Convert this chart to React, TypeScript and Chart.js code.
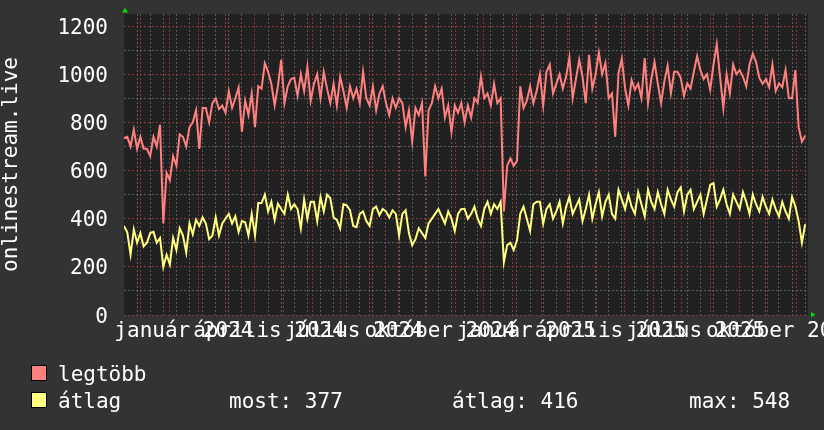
import React, { useEffect, useRef } from "react";
import { Chart, registerables } from "chart.js";

Chart.register(...registerables);

// Time axis: days counted from 13 Nov 2023 (two years shown)
const START_UTC = Date.UTC(2023, 10, 13);
const SPAN_DAYS = 731;
const STEP_DAYS = 3.5;

// "legtöbb" series (one value every 3.5 days)
const legtobb = [
  735, 740, 700, 770, 690, 740, 690, 690, 660, 740,
  700, 790, 380, 590, 560, 660, 620, 750, 740, 700,
  780, 800, 850, 690, 860, 860, 800, 880, 900, 855,
  870, 840, 930, 860, 900, 945, 760, 890, 830, 920,
  780, 950, 940, 1045, 1010, 960, 870, 950, 1060, 880,
  950, 980, 985, 910, 1000, 930, 1030, 890, 960, 1000,
  900, 1010, 940, 880, 960, 870, 990, 930, 860, 950,
  900, 940, 880, 1010, 900, 870, 950, 850, 920, 950,
  880, 830, 900, 860, 900, 880, 780, 850, 720, 860,
  830, 880, 575, 850, 880, 950, 900, 940, 820, 870,
  760, 870, 840, 880, 800, 870, 820, 900, 880, 990,
  900, 920, 870, 960, 880, 900, 430, 620, 650, 620,
  640, 950, 860, 890, 950, 880, 930, 1000, 870, 1010,
  1040, 920, 960, 1000, 940, 990, 1070, 900, 980, 1060,
  990, 880, 1080, 940, 1000, 1090, 1000, 1046, 900, 920,
  740, 1004, 1065, 942, 870, 975, 935, 960, 900, 1067,
  880, 980, 1050, 960, 880, 970, 1035, 921, 1010, 1010,
  985, 910, 962, 940, 1010, 1075, 1017, 980, 1000, 935,
  1040, 1125, 990, 860, 1000, 920, 1040, 1000, 1017, 990,
  950, 1040, 1085, 1050, 985, 960, 980, 946, 1040, 930,
  962, 946, 1017, 900, 900, 1017, 780, 720, 745,
];

// "átlag" series (one value every 3.5 days)
const atlag = [
  370, 343, 250, 355, 300, 340, 285, 300, 340, 345,
  300, 320, 200, 250, 210, 320, 270, 360, 330, 260,
  380, 335, 395, 370, 405, 380, 315, 330, 405, 330,
  380, 400, 420, 380, 410, 345, 390, 385, 330, 420,
  330, 465, 465, 500, 430, 470, 395, 462, 440, 420,
  500, 440, 460, 440, 360, 480, 400, 470, 470, 390,
  490, 430, 500, 485, 405, 395, 360, 460, 455, 435,
  370, 365, 420, 430, 390, 370, 440, 450, 415, 440,
  430, 405, 435, 420, 330, 420, 435, 340, 290, 315,
  360, 340, 320, 380, 400, 420, 440, 410, 380, 430,
  400, 350, 420, 440, 440, 400, 420, 450, 400, 370,
  440, 470, 420, 460, 440, 470, 220, 290, 300, 270,
  310, 420, 450, 400, 350, 460, 470, 470, 380, 440,
  460, 400, 430, 470, 380, 450, 490, 420, 450, 480,
  390, 440, 500, 400, 460, 510, 410, 470, 500, 420,
  400, 520, 480, 440, 500, 450, 420, 510, 460, 410,
  520, 470, 440, 510, 460, 420, 520, 480, 450, 510,
  530, 430, 500, 520, 440, 470, 500, 420, 480, 540,
  548, 450, 480, 520, 460, 420, 500, 470, 440, 510,
  470, 420, 500, 460, 430, 490, 450, 420, 480, 440,
  410, 470, 430, 400, 490, 450, 390, 300, 377,
];

const yLabelValues = [0, 200, 400, 600, 800, 1000, 1200];
const yMinorValues = [100, 300, 500, 700, 900, 1100];
const Y_MAX = 1250;

const monthNames = [
  "január", "február", "március", "április", "május", "június",
  "július", "augusztus", "szeptember", "október", "november", "december",
];
const labelMonths = [0, 3, 6, 9];
const years = [2023, 2024, 2025, 2026];

const yTitle = "onlinestream.live";
const seriesNames = ["legtöbb", "átlag"];
const seriesColors = ["#ff8080", "#ffff80"];
const statTexts = ["most: 377", "átlag: 416", "max: 548"];

const FONT = '21px "DejaVu Sans Mono", monospace';
const GRID_MINOR = "rgba(110,110,110,0.75)";
const GRID_MAJOR = "rgba(150,55,55,0.85)";

const dayOf = (y: number, m: number, d: number) =>
  (Date.UTC(y, m, d) - START_UTC) / 86400000;

const monthStarts: number[] = [];
years.forEach((y) => {
  for (let m = 0; m < 12; m++) {
    const d = dayOf(y, m, 1);
    if (d > 0 && d < SPAN_DAYS) monthStarts.push(d);
  }
});
const biweekly: number[] = [];
for (let d = 14; d < SPAN_DAYS; d += 14) biweekly.push(d);

const xLabels: { day: number; text: string }[] = [];
years.forEach((y) => {
  labelMonths.forEach((m) => {
    const c = dayOf(y, m, 1) + 15;
    if (c >= 0 && c <= SPAN_DAYS) xLabels.push({ day: c, text: `${monthNames[m]} ${y}` });
  });
});

const toPoints = (arr: number[]) => arr.map((v, i) => ({ x: i * STEP_DAYS, y: v }));

const decor = {
  id: "rrdDecor",
  beforeDraw(chart: any) {
    const { ctx, chartArea: a } = chart;
    ctx.save();
    ctx.fillStyle = "#333333";
    ctx.fillRect(0, 0, chart.width, chart.height);
    ctx.fillStyle = "#212121";
    ctx.fillRect(a.left, a.top, a.right - a.left, a.bottom - a.top);
    ctx.restore();
  },
  afterDraw(chart: any) {
    const { ctx, chartArea: a } = chart;
    const xs = chart.scales.x;
    const ys = chart.scales.y;
    ctx.save();
    ctx.fillStyle = "#ffffff";
    ctx.font = FONT;
    // y tick labels
    ctx.textAlign = "right";
    ctx.textBaseline = "alphabetic";
    yLabelValues.forEach((v) => {
      ctx.fillText(String(v), a.left - 16, ys.getPixelForValue(v) + 7.5);
    });
    // x labels
    ctx.textAlign = "center";
    xLabels.forEach((l) => {
      ctx.fillText(l.text, xs.getPixelForValue(l.day), a.bottom + 22);
    });
    // y title
    ctx.save();
    ctx.translate(17, 272);
    ctx.rotate(-Math.PI / 2);
    ctx.textAlign = "left";
    ctx.fillText(yTitle, 0, 0);
    ctx.restore();
    // arrows
    ctx.fillStyle = "#00dd00";
    ctx.beginPath();
    ctx.moveTo(a.left + 1, a.top - 6.5);
    ctx.lineTo(a.left - 2, a.top - 1.5);
    ctx.lineTo(a.left + 4, a.top - 1.5);
    ctx.closePath();
    ctx.fill();
    ctx.beginPath();
    ctx.moveTo(a.right + 3, a.bottom - 3);
    ctx.lineTo(a.right + 3, a.bottom + 2.5);
    ctx.lineTo(a.right + 7.5, a.bottom - 0.25);
    ctx.closePath();
    ctx.fill();
    // legend
    ctx.textAlign = "left";
    seriesNames.forEach((name, i) => {
      const top = 365 + i * 27;
      ctx.fillStyle = seriesColors[i];
      ctx.fillRect(31, top, 16, 16);
      ctx.strokeStyle = "#000000";
      ctx.lineWidth = 1;
      ctx.strokeRect(31.5, top + 0.5, 15, 15);
      ctx.fillStyle = "#ffffff";
      ctx.fillText(name, 58, top + 16);
    });
    const statX = [229, 452, 689];
    statTexts.forEach((t, i) => ctx.fillText(t, statX[i], 365 + 27 + 16));
    ctx.restore();
  },
};

export default function App() {
  const ref = useRef<HTMLCanvasElement>(null);
  useEffect(() => {
    const canvas = ref.current;
    if (!canvas) return;
    const monthSet = new Set(monthStarts);
    const chart = new Chart(canvas, {
      type: "line",
      data: {
        datasets: [
          {
            label: seriesNames[1],
            data: toPoints(atlag),
            borderColor: seriesColors[1],
            borderWidth: 2,
            pointRadius: 0,
            tension: 0,
          },
          {
            label: seriesNames[0],
            data: toPoints(legtobb),
            borderColor: seriesColors[0],
            borderWidth: 2,
            pointRadius: 0,
            tension: 0,
          },
        ],
      },
      options: {
        responsive: false,
        animation: false,
        devicePixelRatio: 1,
        events: [],
        layout: { padding: { left: 124, right: 16, top: 14, bottom: 115 } },
        plugins: {
          legend: { display: false },
          tooltip: { enabled: false },
          title: { display: false },
        },
        scales: {
          x: {
            type: "linear",
            min: 0,
            max: SPAN_DAYS,
            ticks: { display: false, autoSkip: false },
            grid: {
              drawTicks: false,
              lineWidth: 1,
              color: (c: any) => (c.tick && monthSet.has(c.tick.value) ? GRID_MAJOR : GRID_MINOR),
            },
            border: { display: false, dash: [2, 2] },
            afterBuildTicks: (scale: any) => {
              scale.ticks = [
                ...biweekly.filter((d) => !monthSet.has(d)).map((v) => ({ value: v })),
                ...monthStarts.map((v) => ({ value: v })),
              ];
            },
          },
          y: {
            type: "linear",
            min: 0,
            max: Y_MAX,
            ticks: { display: false },
            grid: {
              drawTicks: false,
              lineWidth: 1,
              color: (c: any) => (c.tick && c.tick.value % 200 === 0 ? GRID_MAJOR : GRID_MINOR),
            },
            border: { display: false, dash: [2, 2] },
            afterBuildTicks: (scale: any) => {
              scale.ticks = [
                ...yMinorValues.map((v) => ({ value: v })),
                ...yLabelValues.map((v) => ({ value: v })),
              ];
            },
          },
        },
      },
      plugins: [decor],
    });
    return () => chart.destroy();
  }, []);
  return (
    <div style={{ position: "fixed", left: 0, top: 0, width: 824, height: 430, background: "#333333" }}>
      <canvas ref={ref} width={824} height={430} style={{ display: "block", width: 824, height: 430 }} />
    </div>
  );
}
